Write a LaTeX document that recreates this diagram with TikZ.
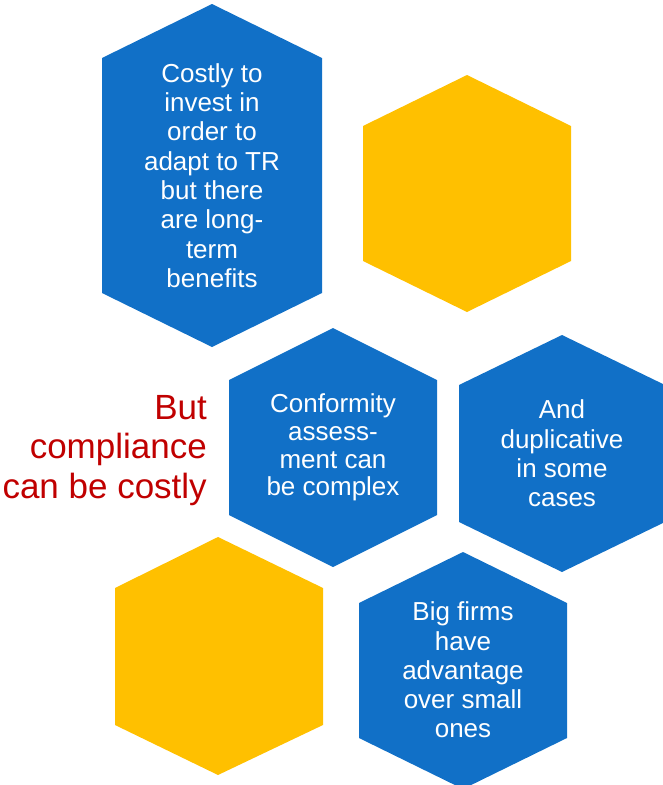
\documentclass[tikz,border=0pt]{standalone}
\usepackage{fontspec}
\setmainfont{Liberation Sans}
\definecolor{hexblue}{RGB}{17,112,199}
\definecolor{hexgold}{RGB}{255,192,0}
\definecolor{costred}{RGB}{192,0,0}
\begin{document}
\begin{tikzpicture}[x=1pt, y=-1pt]
    \tikzstyle{bluehex} = [fill = hexblue];
    \tikzstyle{goldhex} = [fill = hexgold];
    \tikzstyle{hextext} = [text = white, align = center, inner sep = 0pt,
      font = \fontsize{26}{29.3}\selectfont];
    \useasboundingbox (0,0) rectangle (663,785);
    % hexagons:
    \fill[bluehex] (212,4) -- (322,58) -- (322,293) -- (212,347) -- (102,293) -- (102,58) -- cycle;
    \fill[goldhex] (467,75) -- (571,126) -- (571,261) -- (467,312) -- (363,261) -- (363,126) -- cycle;
    \fill[bluehex] (333,328) -- (437,380) -- (437,515) -- (333,567) -- (229,515) -- (229,380) -- cycle;
    \fill[bluehex] (562,335) -- (665,385) -- (665,522) -- (562,572) -- (459,522) -- (459,385) -- cycle;
    \fill[goldhex] (218,537) -- (323,588) -- (323,725) -- (218,775) -- (115,725) -- (115,588) -- cycle;
    \fill[bluehex] (463,552) -- (567,603) -- (567,738) -- (463,789) -- (359,738) -- (359,603) -- cycle;
    % texts:
    \node[hextext] (invest) at (212,175.5) {Costly to\\invest in\\order to\\adapt to TR\\but there\\are long-\\term\\benefits};
    \node[hextext, font = \fontsize{26}{27.7}\selectfont] (conform) at (333,447.5) {Conformity\\assess-\\ment can\\be complex};
    \node[hextext] (dup) at (562,453.5) {And\\duplicative\\in some\\cases};
    \node[hextext] (big) at (463,670) {Big firms\\have\\advantage\\over small\\ones};
    \node[anchor = east, align = right, inner sep = 0pt, text = costred,
      font = \fontsize{35}{39.5}\selectfont] (but) at (207,450.5) {But\\compliance\\can be costly};
\end{tikzpicture}
\end{document}
